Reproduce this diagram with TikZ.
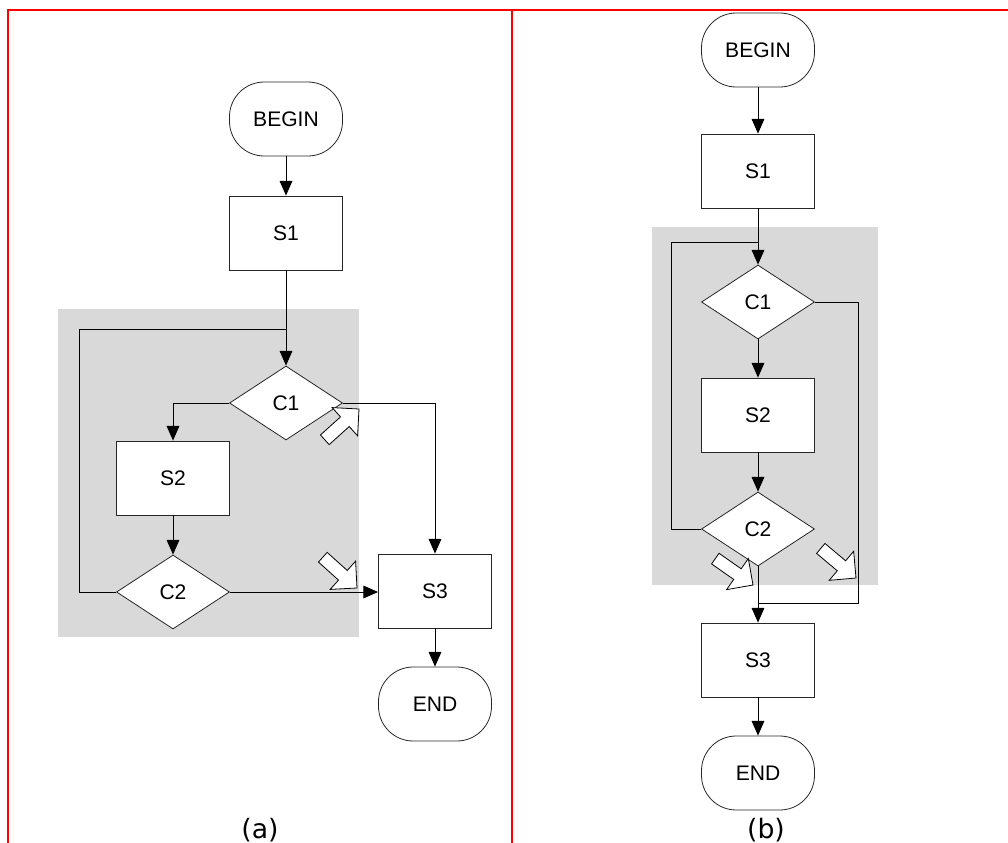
\documentclass[tikz,border=0pt]{standalone}
\usepackage{fontspec}
\setmainfont{Liberation Sans}
\newfontfamily\dejavu{DejaVu Sans}
\usetikzlibrary{shapes.geometric,arrows.meta,calc}
\definecolor{panelgray}{HTML}{D9D9D9}
\tikzset{
  box/.style={draw=black!85, line width=0.6pt, fill=white, minimum width=84.75pt, minimum height=55.5pt, inner sep=0pt, font=\fontsize{15.8pt}{18pt}\selectfont},
  term/.style={box, rounded corners=26pt},
  cond/.style={diamond, draw=black!85, line width=0.6pt, fill=white, minimum width=84.75pt, minimum height=55.5pt, inner sep=0pt, font=\fontsize{15.8pt}{18pt}\selectfont},
  flow/.style={line width=0.75pt, black},
  arr/.style={flow, -{Triangle[length=11pt,width=9.5pt]}},
  frame/.style={red, line width=1.6pt},
  shade/.style={fill=panelgray, draw=none},
  caption/.style={font=\dejavu\fontsize{20pt}{24pt}\selectfont, anchor=base, inner sep=0pt},
  blockarrow/.pic={
    \draw[line width=0.6pt, fill=white, line join=miter]
      (0,0) -- (-19,19) -- (-19,6.5) -- (-46,6.5) -- (-46,-6.5) -- (-19,-6.5) -- (-19,-19) -- cycle;
  }
}
\begin{document}
\begin{tikzpicture}[x=0.75pt,y=-0.75pt]
\useasboundingbox (0,0) rectangle (1008,843);
% frame
\draw[frame] (8,843) -- (8,10) -- (1008,10);
\draw[frame] (512,10) -- (512,843);

% ---------- (a) ----------
\fill[shade] (58,309) rectangle (359,637);
\node[term] (aB)  at (286,119) {BEGIN};
\node[box]  (aS1) at (286,233) {S1};
\node[cond] (aC1) at (286,403) {C1};
\node[box]  (aS2) at (173,478) {S2};
\node[cond] (aC2) at (173,592) {C2};
\node[box]  (aS3) at (435,591) {S3};
\node[term] (aE)  at (435,704) {END};
\coordinate (aL) at (79,329);

\draw[arr] (aB) -- (aS1);
\draw[flow] (aC2.west) -| (aL) -- (aL -| aC1.north);
\draw[arr] (aS1) -- (aC1);
\draw[arr] (aC1.west) -| (aS2.north);
\draw[arr] (aS2) -- (aC2);
\draw[arr] (aC1.east) -| (aS3.north);
\draw[arr] (aC2.east) -- (aC2.east -| aS3.west);
\draw[arr] (aS3) -- (aE);
\pic[rotate=42] at (359,409) {blockarrow};
\pic[rotate=-42] at (357,588) {blockarrow};
\node[caption] (capa) at (260,838) {(a)};

% ---------- (b) ----------
\fill[shade] (652,227) rectangle (878,585);
\node[term] (bB)  at (758,50)  {BEGIN};
\node[box]  (bS1) at (758,171) {S1};
\node[cond] (bC1) at (758,302) {C1};
\node[box]  (bS2) at (758,415) {S2};
\node[cond] (bC2) at (758,529) {C2};
\node[box]  (bS3) at (758,660) {S3};
\node[term] (bE)  at (758,773) {END};
\coordinate (bL) at (671,242);
\coordinate (bR) at (858,603);

\draw[arr] (bB) -- (bS1);
\draw[flow] (bC2.west) -| (bL) -- (bL -| bC1.north);
\draw[arr] (bS1) -- (bC1);
\draw[arr] (bC1) -- (bS2);
\draw[arr] (bS2) -- (bC2);
\draw[flow] (bC1.east) -| (bR) -- (bR -| bC2.south);
\draw[arr] (bC2) -- (bS3);
\draw[arr] (bS3) -- (bE);
\pic[rotate=-35] at (753,585) {blockarrow};
\pic[rotate=-40] at (856,578) {blockarrow};
\node[caption] (capb) at (766,838) {(b)};
\end{tikzpicture}
\end{document}
